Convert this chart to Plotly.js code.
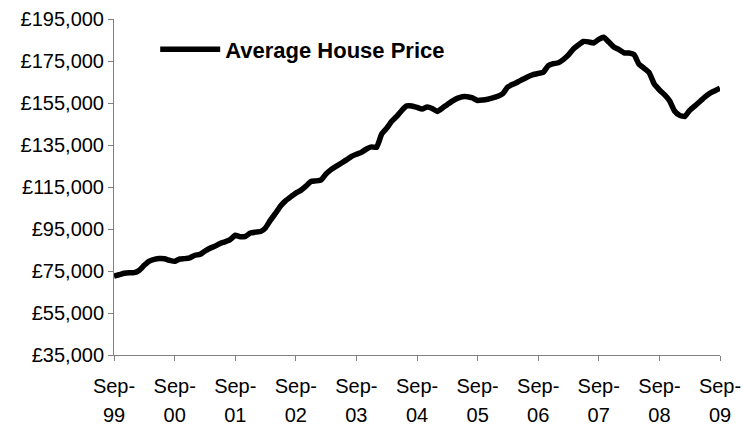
<!DOCTYPE html>
<html>
<head>
<meta charset="utf-8">
<script src="https://cdn.plot.ly/plotly-3.0.1.min.js"></script>
<style>html,body{margin:0;padding:0;background:#fff;}#chart{width:743px;height:429px;}</style>
</head>
<body>
<div id="chart"></div>
<script>
// Monthly average house price, Sep 1999 .. Sep 2009 (in £)
const startYear = 1999;
const startMonth = 9;
const prices = [
  72600, 73200, 73900, 74200, 74200, 75400, 77700, 79700, 80500, 80900,
  80800, 80100, 79600, 80700, 80900, 81300, 82500, 82900, 84400, 85800,
  86800, 88100, 88900, 89900, 92000, 91300, 91500, 93100, 93500, 93800,
  95400, 99200, 102400, 106000, 108400, 110300, 112100, 113400, 115400, 117600,
  117900, 118400, 121100, 123300, 124800, 126300, 127800, 129500, 130600, 131500,
  133100, 134100, 133900, 140300, 142900, 146300, 148600, 151500, 153600, 153600,
  152900, 152100, 153100, 152400, 151000, 152600, 154200, 155900, 157200, 158000,
  158000, 157400, 156200, 156400, 156800, 157400, 158200, 159500, 162600, 163900,
  165000, 166300, 167500, 168500, 169100, 169600, 172800, 173700, 174200, 175800,
  177800, 180700, 182600, 184300, 184100, 183600, 185300, 186300, 184000, 181700,
  180400, 178900, 178800, 178000, 173400, 171500, 169500, 164000, 161200, 159000,
  156100, 151200, 149100, 148600, 151400, 153500, 155600, 157800, 159600, 160800,
  162000
];
const tickDates = ["1999-09-01","2000-09-01","2001-09-01","2002-09-01","2003-09-01","2004-09-01","2005-09-01","2006-09-01","2007-09-01","2008-09-01","2009-09-01"];
const tickMonth = ["Sep-","Sep-","Sep-","Sep-","Sep-","Sep-","Sep-","Sep-","Sep-","Sep-","Sep-"];
const tickYear = ["99","00","01","02","03","04","05","06","07","08","09"];
const yTicks = [35000, 55000, 75000, 95000, 115000, 135000, 155000, 175000, 195000];
const yTickLabels = ["£35,000","£55,000","£75,000","£95,000","£115,000","£135,000","£155,000","£175,000","£195,000"];

const dates = prices.map((_, i) => {
  const m0 = startMonth - 1 + i;
  const y = startYear + Math.floor(m0 / 12);
  const m = (m0 % 12) + 1;
  return y + "-" + String(m).padStart(2, "0") + "-01";
});

const FONT = "Liberation Sans, Arial, sans-serif";

const trace = {
  x: dates, y: prices, type: "scatter", mode: "lines",
  name: "Average House Price",
  line: {color: "#000000", width: 5.5, shape: "spline", smoothing: 0.4}
};
const yearAxisHolder = {
  x: [], y: [], type: "scatter", mode: "lines", xaxis: "x2", yaxis: "y",
  showlegend: false, hoverinfo: "skip"
};

const layout = {
  width: 743, height: 429,
  margin: {l: 114, r: 23, t: 19, b: 74},
  paper_bgcolor: "#ffffff", plot_bgcolor: "#ffffff",
  font: {family: FONT, size: 20, color: "#000"},
  showlegend: true,
  legend: {x: 0.068, y: 0.972, xanchor: "left", yanchor: "top", bgcolor: "rgba(0,0,0,0)",
           itemwidth: 60,
           font: {size: 22, family: FONT, weight: "bold"}},
  xaxis: {
    type: "date", range: ["1999-09-01", "2009-09-01"],
    tickmode: "array", tickvals: tickDates, ticktext: tickMonth,
    showgrid: false, zeroline: false, showline: true, linecolor: "#808080", linewidth: 1,
    ticks: "outside", ticklen: 5, tickcolor: "#808080", tickangle: 0,
    ticklabelstandoff: 8,
    tickfont: {size: 20, family: FONT}
  },
  xaxis2: {
    type: "date", range: ["1999-09-01", "2009-09-01"], overlaying: "x", anchor: "y", side: "bottom",
    tickmode: "array", tickvals: tickDates, ticktext: tickYear,
    showgrid: false, zeroline: false, showline: false, ticks: "", tickangle: 0,
    ticklabelstandoff: 46,
    tickfont: {size: 20, family: FONT}
  },
  yaxis: {
    range: [35000, 195000], tickmode: "array", tickvals: yTicks, ticktext: yTickLabels,
    showgrid: false, zeroline: false, showline: true, linecolor: "#808080", linewidth: 1,
    ticks: "outside", ticklen: 5, tickcolor: "#808080",
    tickfont: {size: 20, family: FONT}
  }
};

Plotly.newPlot("chart", [trace, yearAxisHolder], layout, {displayModeBar: false, staticPlot: true});
</script>
</body>
</html>
